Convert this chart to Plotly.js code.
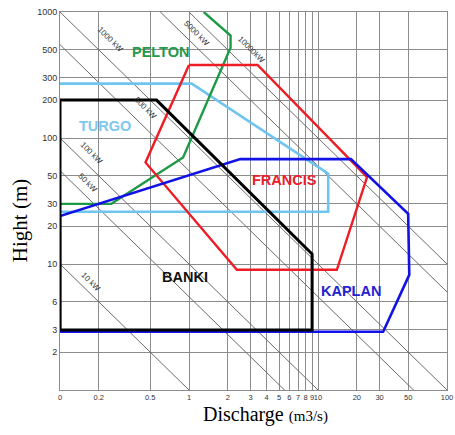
<!DOCTYPE html>
<html>
<head>
<meta charset="utf-8">
<script src="https://cdn.plot.ly/plotly-3.0.1.min.js"></script>
<style>html,body{margin:0;padding:0;background:#fff;}#chart{width:455px;height:435px;}</style>
</head>
<body>
<div id="chart"></div>
<script>
// Axis ticks
const xTickVals = [0.1, 0.2, 0.5, 1, 2, 3, 4, 5, 6, 7, 8, 9, 10, 20, 30, 50, 100];
const xTickText = ["0", "0.2", "0.5", "1", "2", "3", "4", "5", "6", "7", "8", "9", "10", "20", "30", "50", "100"];
const yTickVals = [2, 3, 5, 10, 20, 30, 50, 100, 200, 300, 500, 1000];
const yTickText = ["2", "3", "6", "10", "20", "30", "50", "100", "200", "300", "500", "1000"];

// Turbine application envelopes (Discharge m3/s, Head m)
const peltonQ = [0.1, 0.25, 0.9, 2.1, 2.1, 1.3];
const peltonH = [30, 30, 70, 520, 650, 1000];
const turgoQ = [0.1, 1.05, 12, 12, 0.1];
const turgoH = [270, 270, 52, 26, 26];
const francisQ = [1.0, 3.4, 24, 14, 2.35, 0.46, 1.0];
const francisH = [380, 380, 49, 9, 9, 64, 380];
const kaplanQ = [0.1, 2.5, 18, 50, 51, 32, 0.1, 0.1];
const kaplanH = [24, 68, 68, 25, 8.2, 2.9, 2.9, 24];
const bankiQ = [0.1, 0.1, 0.56, 9, 9, 0.1];
const bankiH = [3, 200, 200, 12, 3, 3];

// Power iso-lines (Q*H products) and their labels
const powerQH = [1, 5.5, 10, 55, 100, 600, 1000];
const powerLabels = ["10 kW", "50 kW", "100 kW", "500 kW", "1000 kW", "5000 kW", "10000kW"];
const powerLabelQ = [0.171, 0.162, 0.177, 0.464, 0.244, 1.15, 3.02];
const powerLabelH = [7.2, 44, 76, 173, 600, 681, 500];

// Turbine names
const turbineNames = ["PELTON", "TURGO", "FRANCIS", "BANKI", "KAPLAN"];
const turbineLabelQ = [0.596, 0.224, 5.45, 0.93, 18.1];
const turbineLabelH = [482, 125, 46, 7.9, 6.1];
const turbineColors = ["#23994a", "#7ec8ef", "#e8202a", "#111111", "#2323d0"];

const qEnds = [0.01, 1000];
const traces = [];
powerQH.forEach(c => {
  traces.push({
    x: qEnds, y: qEnds.map(q => c / q), mode: 'lines', type: 'scatter',
    line: {color: '#6a6a6a', width: 1}, hoverinfo: 'skip', showlegend: false
  });
});
function env(q, h, color, w) {
  return {x: q, y: h, mode: 'lines', type: 'scatter', line: {color: color, width: w},
          showlegend: false, hoverinfo: 'skip'};
}
traces.push(env(turgoQ, turgoH, '#6fc4f0', 2.6));
traces.push(env(peltonQ, peltonH, '#1e9a46', 2.4));
traces.push(env(francisQ, francisH, '#ee1c25', 2.4));
traces.push(env(kaplanQ, kaplanH, '#1212e6', 2.6));
traces.push(env(bankiQ, bankiH, '#000000', 3));

const annotations = [];
powerLabels.forEach((t, i) => {
  annotations.push({x: Math.log10(powerLabelQ[i]), y: Math.log10(powerLabelH[i]), xref: 'x', yref: 'y',
    text: t, showarrow: false, textangle: 45,
    font: {family: 'Liberation Sans, Arial, sans-serif', size: 8, color: '#333'}});
});
turbineNames.forEach((t, i) => {
  annotations.push({x: Math.log10(turbineLabelQ[i]), y: Math.log10(turbineLabelH[i]), xref: 'x', yref: 'y',
    text: '<b>' + t + '</b>', showarrow: false,
    font: {family: 'Liberation Sans, Arial, sans-serif', size: 14.5, color: turbineColors[i]}});
});
annotations.push({xref: 'paper', yref: 'paper', x: -0.103, y: 0.447, xanchor: 'center', yanchor: 'middle',
  text: 'Hight (m)', textangle: -90, showarrow: false,
  font: {family: 'Liberation Serif, Times New Roman, serif', size: 21, color: '#000'}});
annotations.push({xref: 'paper', yref: 'paper', x: 0.532, y: -0.064, xanchor: 'center', yanchor: 'middle',
  text: 'Discharge <span style="font-size:15px">(m3/s)</span>', showarrow: false,
  font: {family: 'Liberation Serif, Times New Roman, serif', size: 20, color: '#000'}});

const axisCommon = {
  type: 'log', showgrid: true, gridcolor: '#8c8c8c', gridwidth: 1,
  showline: true, linecolor: '#8c8c8c', linewidth: 1, mirror: true,
  ticks: '', tickmode: 'array',
  tickfont: {family: 'Liberation Sans, Arial, sans-serif', size: 9, color: '#333'}
};
const layout = {
  width: 455, height: 435,
  margin: {l: 60, r: 8, t: 12, b: 45},
  paper_bgcolor: '#fff', plot_bgcolor: '#fff',
  showlegend: false,
  xaxis: Object.assign({}, axisCommon, {range: [-1, 2], tickvals: xTickVals, ticktext: xTickText, tickangle: 0,
    tickfont: {family: 'Liberation Sans, Arial, sans-serif', size: 7.5, color: '#333'}}),
  yaxis: Object.assign({}, axisCommon, {range: [0, 3], tickvals: yTickVals, ticktext: yTickText}),
  annotations: annotations
};
Plotly.newPlot('chart', traces, layout, {staticPlot: true, displayModeBar: false});
</script>
</body>
</html>
